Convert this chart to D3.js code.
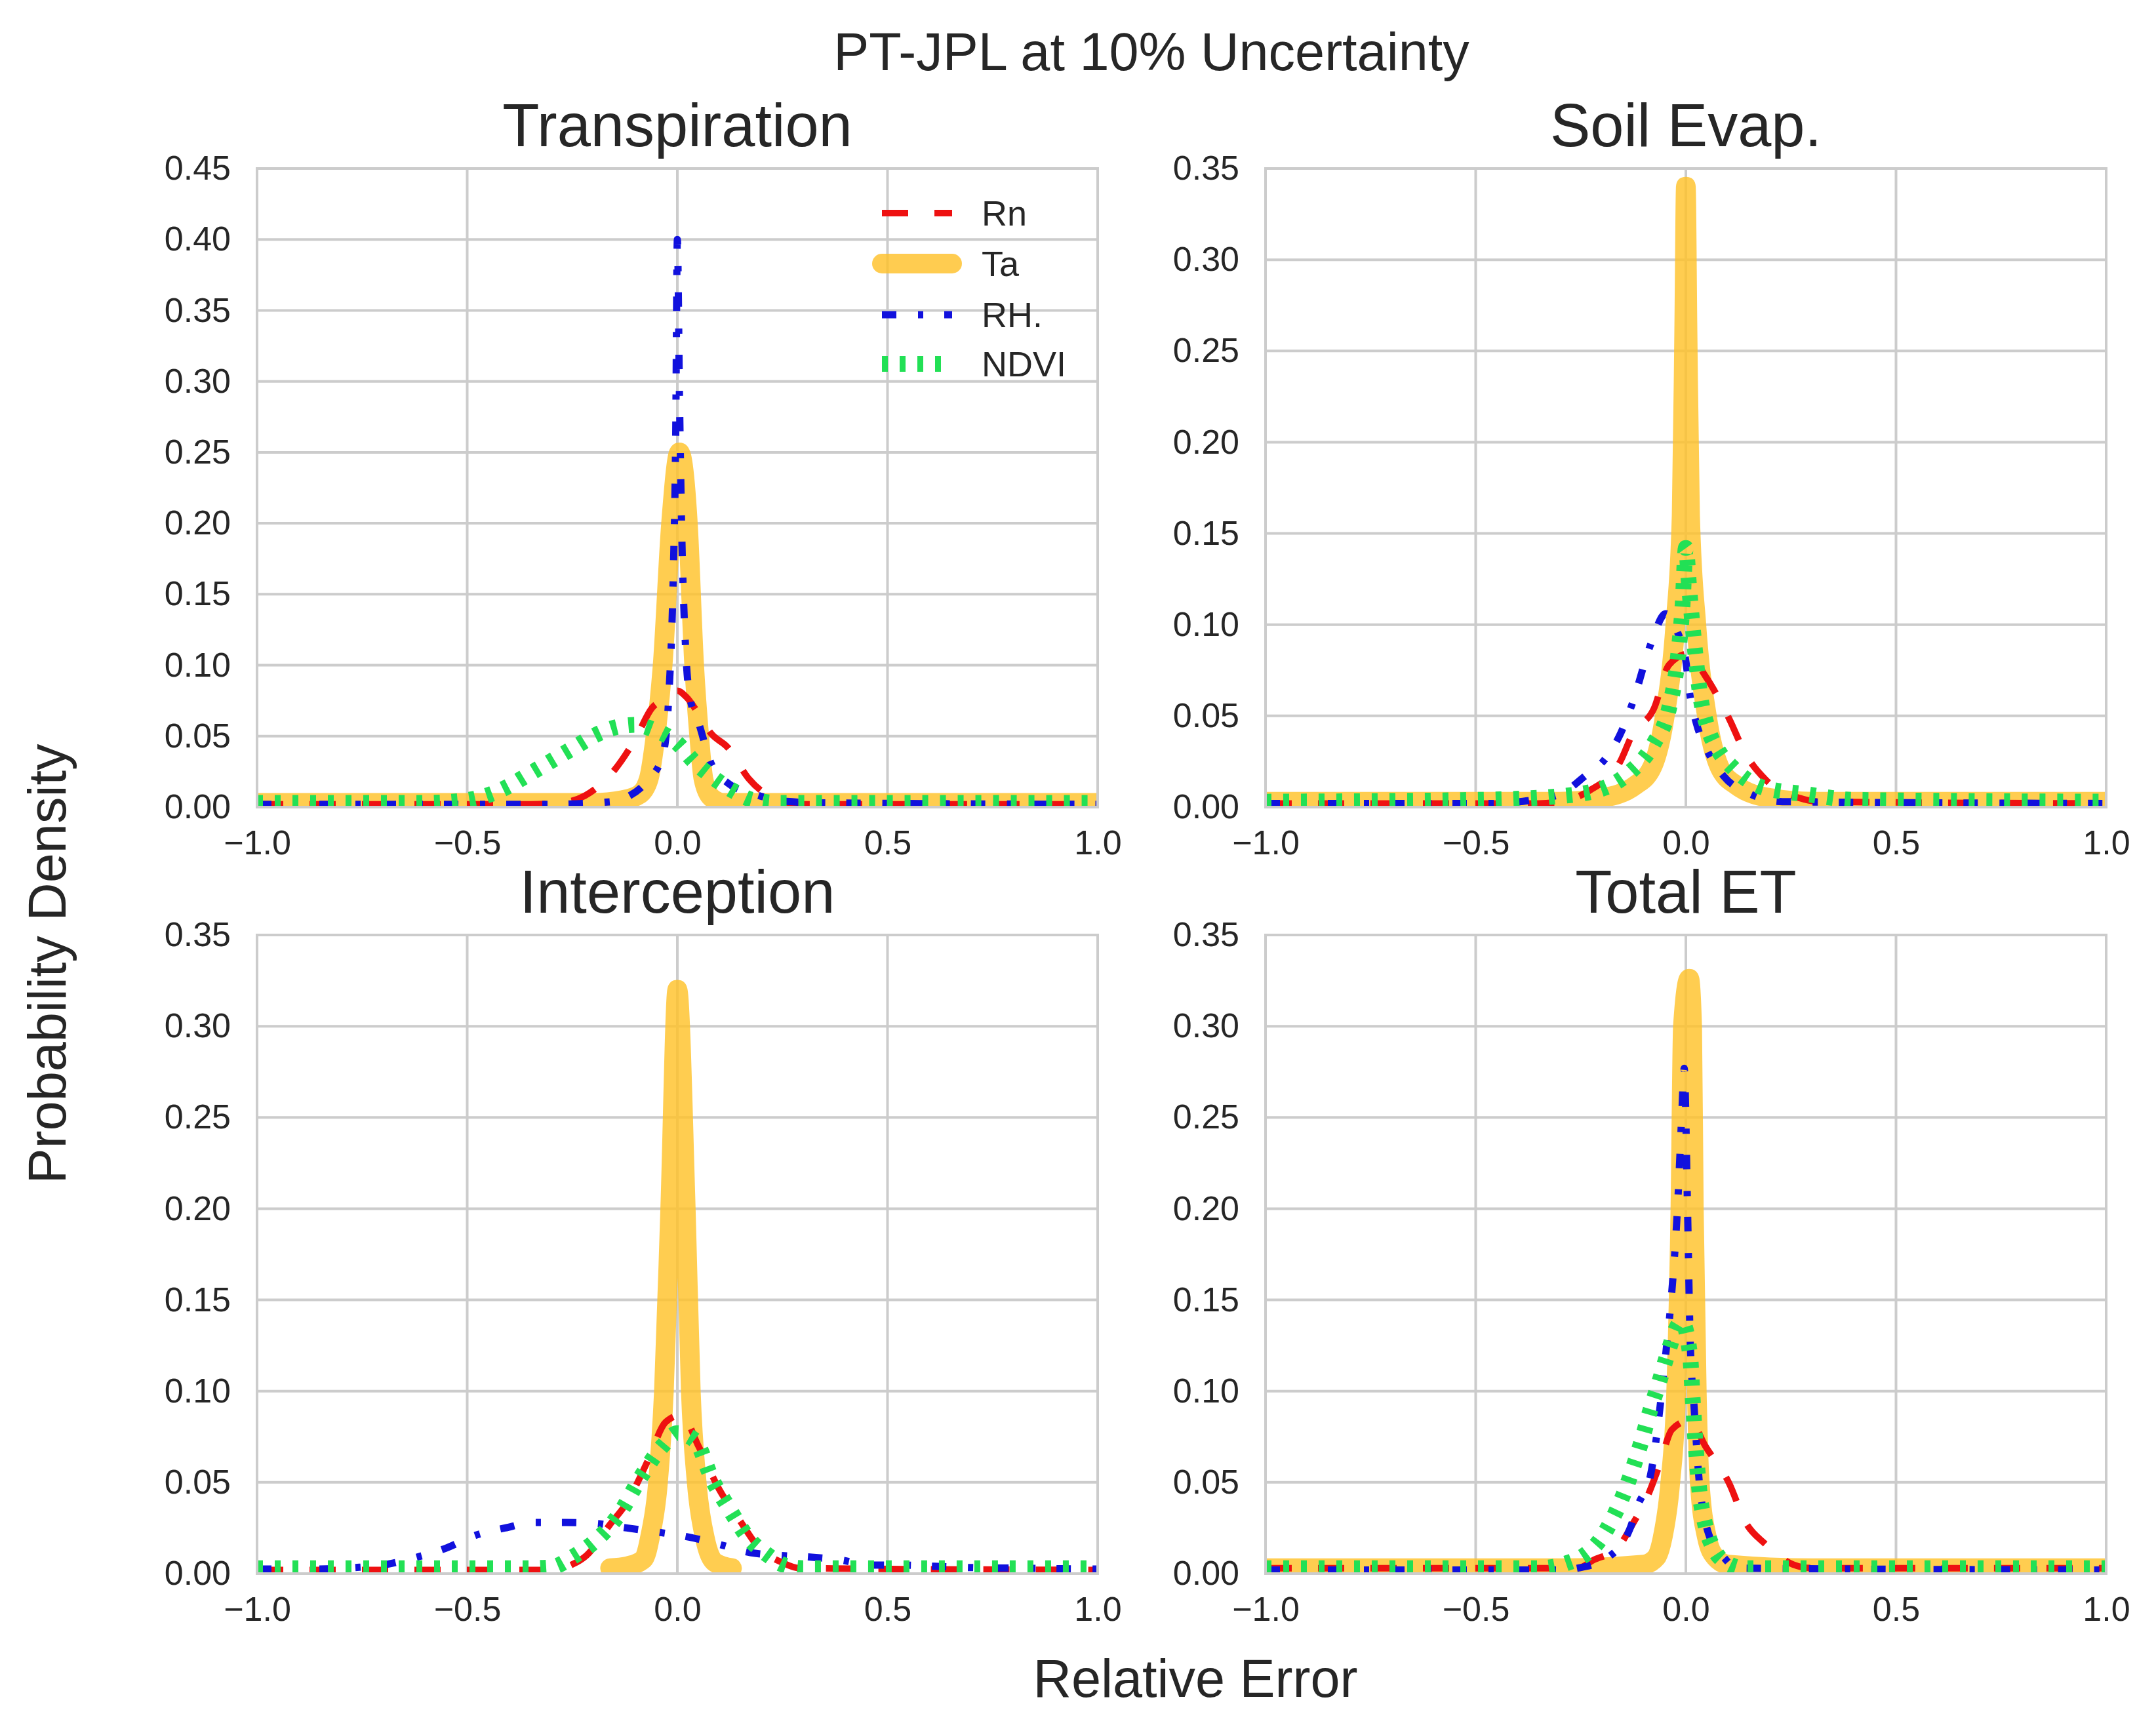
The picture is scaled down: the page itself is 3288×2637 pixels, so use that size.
<!DOCTYPE html>
<html>
<head>
<meta charset="utf-8">
<script src="https://cdn.jsdelivr.net/npm/d3@7"></script>
<style>
  body { margin: 0; background: #fff; }
  text { font-family: "Liberation Sans", Arial, sans-serif; fill: #262626; }
</style>
</head>
<body>
<div id="chart"></div>
<script>
// ---- data: [relative error, density] ----
const seriesNames = ["Rn", "Ta", "RH.", "NDVI"];
const panelTitles = ["Transpiration", "Soil Evap.", "Interception", "Total ET"];
const panelYMax = [0.45, 0.35, 0.35, 0.35];
const xTicks = [-1, -0.5, 0, 0.5, 1];
const yTicksTrans = [0, 0.05, 0.10, 0.15, 0.20, 0.25, 0.30, 0.35, 0.40, 0.45];
const yTicksOther = [0, 0.05, 0.10, 0.15, 0.20, 0.25, 0.30, 0.35];

// Transpiration
const transRn = [[-1,.002],[-0.35,.002],[-0.28,.003],[-0.22,.008],[-0.15,.026],[-0.1,.048],[-0.06,.07],[-0.03,.076],[0,.082],[0.02,.078],[0.05,.066],[0.08,.052],[0.12,.042],[0.17,.02],[0.24,.005],[0.3,.002],[1,.002]];
const transTa = [[-1,.003],[-0.2,.003],[-0.13,.005],[-0.09,.009],[-0.068,.02],[-0.052,.05],[-0.035,.1],[-0.015,.2],[0.005,.25],[0.025,.2],[0.04,.1],[0.052,.05],[0.062,.02],[0.08,.007],[0.11,.003],[1,.003]];
const transRH = [[-1,.002],[-0.3,.002],[-0.15,.004],[-0.12,.007],[-0.07,.019],[-0.035,.036],[-0.02,.08],[-0.01,.16],[-0.004,.26],[0,.40],[0.005,.29],[0.01,.2],[0.02,.11],[0.03,.077],[0.05,.06],[0.08,.031],[0.12,.017],[0.19,.0085],[0.26,.004],[0.35,.003],[1,.002]];
const transNDVI = [[-1,.003],[-0.6,.003],[-0.5,.005],[-0.45,.0085],[-0.4,.015],[-0.36,.022],[-0.32,.029],[-0.28,.036],[-0.24,.043],[-0.2,.05],[-0.15,.056],[-0.1,.058],[-0.06,.055],[0,.045],[0.04,.032],[0.08,.022],[0.13,.012],[0.18,.005],[0.25,.003],[1,.003]];

// Soil Evap.
const soilRn = [[-1,.002],[-0.35,.002],[-0.3,.003],[-0.23,.009],[-0.156,.025],[-0.127,.04],[-0.076,.054],[-0.04,.078],[0.005,.084],[0.046,.072],[0.104,.048],[0.14,.03],[0.19,.015],[0.27,.005],[0.32,.003],[1,.002]];
const soilTa = [[-1,.003],[-0.3,.003],[-0.2,.005],[-0.12,.012],[-0.08,.022],[-0.05,.05],[-0.025,.1],[-0.01,.16],[-0.004,.26],[0,.34],[0.004,.26],[0.01,.16],[0.025,.1],[0.05,.05],[0.08,.022],[0.12,.012],[0.2,.005],[0.3,.003],[1,.003]];
const soilRH = [[-1,.002],[-0.45,.002],[-0.38,.0034],[-0.3,.007],[-0.24,.017],[-0.19,.027],[-0.156,.04],[-0.127,.057],[-0.084,.089],[-0.048,.106],[-0.02,.096],[0,.08],[0.01,.061],[0.025,.046],[0.053,.03],[0.09,.017],[0.155,.007],[0.23,.003],[1,.002]];
const soilNDVI = [[-1,.003],[-0.5,.004],[-0.3,.006],[-0.2,.01],[-0.134,.019],[-0.076,.035],[-0.04,.054],[-0.02,.08],[-0.008,.11],[0,.142],[0.008,.12],[0.02,.09],[0.035,.06],[0.053,.043],[0.08,.03],[0.11,.022],[0.18,.011],[0.29,.007],[0.4,.004],[1,.003]];

// Interception
const intRn = [[-1,.002],[-0.3,.002],[-0.25,.005],[-0.216,.01],[-0.16,.027],[-0.12,.039],[-0.07,.062],[-0.028,.083],[0.01,.087],[0.05,.07],[0.1,.046],[0.146,.03],[0.195,.014],[0.25,.006],[0.29,.003],[1,.002]];
const intTa = [[-0.16,.003],[-0.12,.004],[-0.08,.008],[-0.065,.02],[-0.046,.05],[-0.032,.1],[-0.017,.2],[0,.32],[0.02,.2],[0.032,.1],[0.046,.05],[0.065,.02],[0.09,.006],[0.13,.003]];
const intRH = [[-1,.0025],[-0.86,.0025],[-0.77,.0033],[-0.7,.0047],[-0.62,.009],[-0.55,.014],[-0.48,.021],[-0.41,.025],[-0.34,.028],[-0.265,.028],[-0.195,.0275],[-0.12,.025],[-0.04,.0225],[0.028,.02],[0.1,.016],[0.174,.0115],[0.244,.01],[0.32,.009],[0.39,.0074],[0.46,.0047],[0.53,.0047],[0.61,.004],[0.7,.0033],[0.8,.003],[1,.0025]];
const intNDVI = [[-1,.003],[-0.35,.003],[-0.3,.0035],[-0.25,.009],[-0.195,.018],[-0.14,.032],[-0.084,.054],[-0.035,.07],[0,.077],[0.042,.073],[0.084,.051],[0.125,.035],[0.167,.02],[0.216,.01],[0.25,.005],[0.3,.003],[1,.003]];

// Total ET
const totRn = [[-1,.003],[-0.3,.003],[-0.257,.003],[-0.22,.0074],[-0.163,.014],[-0.127,.027],[-0.09,.043],[-0.062,.06],[-0.033,.079],[0.01,.084],[0.046,.07],[0.104,.049],[0.14,.029],[0.19,.016],[0.255,.005],[0.3,.003],[1,.003]];
const totTa = [[-1,.003],[-0.3,.003],[-0.1,.005],[-0.07,.009],[-0.055,.02],[-0.037,.05],[-0.023,.1],[-0.013,.2],[-0.007,.3],[0.008,.326],[0.015,.3],[0.019,.2],[0.026,.1],[0.033,.05],[0.05,.02],[0.07,.009],[0.1,.005],[0.3,.003],[1,.003]];
const totRH = [[-1,.002],[-0.3,.002],[-0.257,.003],[-0.185,.009],[-0.134,.024],[-0.113,.038],[-0.084,.054],[-0.048,.12],[-0.035,.15],[-0.02,.2],[-0.01,.25],[-0.004,.277],[0.004,.2],[0.01,.13],[0.02,.09],[0.032,.05],[0.045,.03],[0.06,.018],[0.09,.009],[0.12,.003],[1,.002]];
const totNDVI = [[-1,.003],[-0.35,.003],[-0.28,.006],[-0.242,.01],[-0.206,.018],[-0.177,.029],[-0.149,.043],[-0.127,.057],[-0.105,.073],[-0.084,.09],[-0.062,.106],[-0.048,.117],[-0.01,.138],[0.01,.12],[0.017,.093],[0.025,.065],[0.032,.046],[0.046,.027],[0.068,.013],[0.097,.006],[0.14,.003],[1,.003]];

const panelData = [
    { Rn: transRn, Ta: transTa, "RH.": transRH, NDVI: transNDVI },
    { Rn: soilRn,  Ta: soilTa,  "RH.": soilRH,  NDVI: soilNDVI },
    { Rn: intRn,   Ta: intTa,   "RH.": intRH,   NDVI: intNDVI },
    { Rn: totRn,   Ta: totTa,   "RH.": totRH,   NDVI: totNDVI }
];

// ---- styles / layout ----
const styles = {
    "Rn":   { color: "#ee1111", width: 10, dash: "40,40" },
    "Ta":   { color: "#ffc22a", width: 30, dash: null, opacity: 0.82 },
    "RH.":  { color: "#1111dd", width: 11, dash: "22,33,8,32" },
    "NDVI": { color: "#22e055", width: 24, dash: "9,18" }
};
const drawOrder = ["Ta", "Rn", "RH.", "NDVI"];

const W = 3288, H = 2637;
const plotW = 1282, plotH = 974;
const lefts = [392, 1930, 392, 1930];
const tops = [257, 257, 1426, 1426];
const gridColor = "#cccccc";
const tickFont = 52;

const svg = d3.select("#chart").append("svg")
    .attr("width", W)
    .attr("height", H)
    .style("background", "#fff");

panelTitles.forEach((title, i) => {
    const g = svg.append("g").attr("transform", `translate(${lefts[i]},${tops[i]})`);
    const x = d3.scaleLinear().domain([-1, 1]).range([0, plotW]);
    const y = d3.scaleLinear().domain([0, panelYMax[i]]).range([plotH, 0]);
    const yTicks = i === 0 ? yTicksTrans : yTicksOther;

    g.append("rect")
        .attr("width", plotW).attr("height", plotH)
        .attr("fill", "#fff");

    // grid
    g.selectAll(".gx").data(xTicks).enter().append("line")
        .attr("x1", d => x(d)).attr("x2", d => x(d))
        .attr("y1", 0).attr("y2", plotH)
        .attr("stroke", gridColor).attr("stroke-width", 4);
    g.selectAll(".gy").data(yTicks).enter().append("line")
        .attr("x1", 0).attr("x2", plotW)
        .attr("y1", d => y(d)).attr("y2", d => y(d))
        .attr("stroke", gridColor).attr("stroke-width", 4);

    // clip
    const clipId = "clip" + i;
    svg.append("clipPath").attr("id", clipId)
        .append("rect").attr("width", plotW).attr("height", plotH);

    const line = d3.line()
        .x(d => x(d[0]))
        .y(d => y(d[1]))
        .curve(d3.curveMonotoneX);

    const lines = g.append("g").attr("clip-path", `url(#${clipId})`);
    drawOrder.forEach(name => {
        const s = styles[name];
        lines.append("path")
            .attr("d", line(panelData[i][name]))
            .attr("fill", "none")
            .attr("stroke", s.color)
            .attr("stroke-width", s.width)
            .attr("stroke-dasharray", s.dash)
            .attr("stroke-linecap", s.dash ? "butt" : "round")
            .attr("stroke-linejoin", "round")
            .attr("opacity", s.opacity || 1);
    });

    // frame
    g.append("rect")
        .attr("width", plotW).attr("height", plotH)
        .attr("fill", "none")
        .attr("stroke", gridColor).attr("stroke-width", 4);

    // axes
    const ax = g.append("g")
        .attr("transform", `translate(0,${plotH})`)
        .call(d3.axisBottom(x).tickValues(xTicks).tickSize(0).tickPadding(35).tickFormat(d3.format(".1f")));
    const ay = g.append("g")
        .call(d3.axisLeft(y).tickValues(yTicks).tickSize(0).tickPadding(40).tickFormat(d3.format(".2f")));
    [ax, ay].forEach(a => {
        a.select(".domain").remove();
        a.attr("font-size", tickFont).attr("font-family", null);
        a.selectAll("text").attr("fill", "#262626");
    });

    g.append("text")
        .attr("x", plotW / 2).attr("y", -34)
        .attr("text-anchor", "middle")
        .attr("font-size", 92)
        .text(title);
});

// legend (Transpiration panel only)
const legRows = [325, 402, 480, 555];
const legend = svg.append("g");
seriesNames.forEach((name, k) => {
    const s = styles[name];
    legend.append("line")
        .attr("x1", 1345).attr("x2", 1452)
        .attr("y1", legRows[k]).attr("y2", legRows[k])
        .attr("stroke", s.color)
        .attr("stroke-width", s.width)
        .attr("stroke-dasharray", s.dash)
        .attr("stroke-linecap", s.dash ? "butt" : "round")
        .attr("opacity", s.opacity || 1);
    legend.append("text")
        .attr("x", 1497).attr("y", legRows[k] + 19)
        .attr("font-size", 54)
        .text(name);
});

// figure labels
svg.append("text")
    .attr("x", 1756).attr("y", 107)
    .attr("text-anchor", "middle")
    .attr("font-size", 81)
    .text("PT-JPL at 10% Uncertainty");

svg.append("text")
    .attr("x", 1823).attr("y", 2588)
    .attr("text-anchor", "middle")
    .attr("font-size", 81)
    .text("Relative Error");

svg.append("text")
    .attr("transform", "translate(100,1470) rotate(-90)")
    .attr("text-anchor", "middle")
    .attr("font-size", 81)
    .text("Probability Density");
</script>
</body>
</html>
